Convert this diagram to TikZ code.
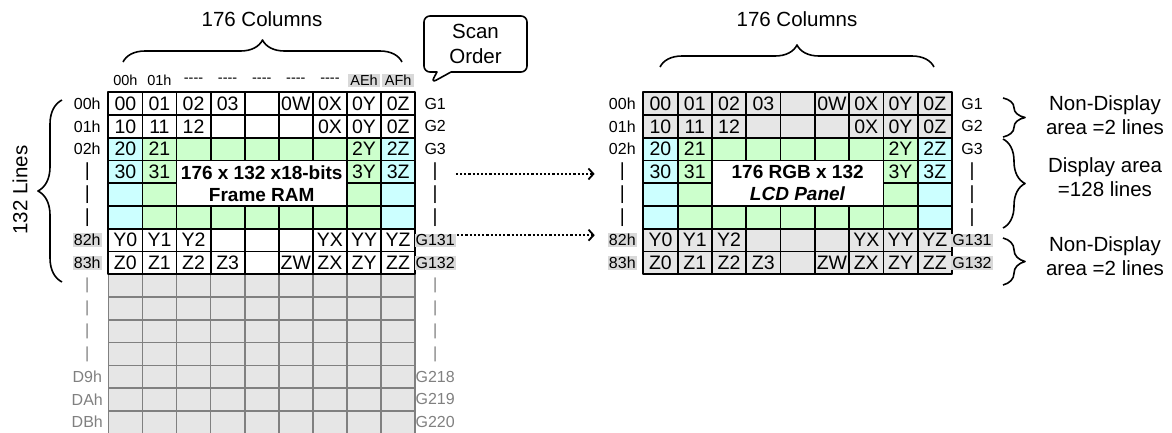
\documentclass[tikz,border=0pt]{standalone}
\usepackage{fontspec}
\setmainfont{Liberation Sans}
\usetikzlibrary{
	arrows.meta,
	decorations.pathreplacing,
	shapes.callouts
}
\definecolor{RowCyan}{HTML}{CCFFFF}
\definecolor{RowGreen}{HTML}{CCFFCC}
\definecolor{CellGray}{HTML}{E6E6E6}
\definecolor{TagGray}{HTML}{D9D9D9}
\definecolor{GridGray}{HTML}{808080}
\def\rowtop{92.3}
\def\rowh{22.75}
\newcommand{\vbar}{{\fontsize{19}{19}\selectfont|}}
\newcommand{\dashtag}{\mbox{-}\mbox{-}\mbox{-}\mbox{-}}
% #1 left x, #2 column width, #3 fill of plain rows, #4 name prefix, #5 title
\newcommand{\ramgrid}[5]{%
	% -- plain rows (first two, last two) -------------------------
	\foreach \ci in {0,...,8}{%
		\foreach \ri in {0,1,6,7}{%
			\filldraw[cellgrid, fill=#3] ({#1+\ci*#2},{\rowtop+\ri*\rowh}) rectangle ++(#2,\rowh);
		}
	}
	% -- display rows ---------------------------------------------
	\foreach \ri in {2,...,5}{%
		\foreach \ci in {0,8}{%
			\filldraw[cellgrid, fill=RowCyan] ({#1+\ci*#2},{\rowtop+\ri*\rowh}) rectangle ++(#2,\rowh);
		}
	}
	\foreach \ri/\ci in {2/1,2/2,2/3,2/4,2/5,2/6,2/7,3/1,3/7,4/1,4/7,5/1,5/2,5/3,5/4,5/5,5/6,5/7}{%
		\filldraw[cellgrid, fill=RowGreen] ({#1+\ci*#2},{\rowtop+\ri*\rowh}) rectangle ++(#2,\rowh);
	}
	\filldraw[cellgrid, fill=white] ({#1+2*#2},{\rowtop+3*\rowh}) rectangle ++({5*#2},{2*\rowh});
	\node[boldtxt] (#4-title) at ({#1+4.5*#2},{\rowtop+4*\rowh}) {#5};
	% -- cell texts -----------------------------------------------
	\foreach \ri/\cells in {0/{00,01,02,03,,0W,0X,0Y,0Z},1/{10,11,12,,,,0X,0Y,0Z},
		2/{20,21,,,,,,2Y,2Z},3/{30,31,,,,,,3Y,3Z},
		6/{Y0,Y1,Y2,,,,YX,YY,YZ},7/{Z0,Z1,Z2,Z3,,ZW,ZX,ZY,ZZ}}{%
		\foreach \cv [count=\ci from 0] in \cells{%
			\node[celltxt] (#4-\ri-\ci) at ({#1+(\ci+0.5)*#2},{\rowtop+(\ri+0.5)*\rowh}) {\cv};
		}
	}
	% -- row tags (left) and gate tags (right) --------------------
	\foreach \lb [count=\ri from 0] in {00h,01h,02h,\vbar,\vbar,\vbar}{%
		\node[rowtag] (#4-row\ri) at ({#1-21},{\rowtop+(\ri+0.5)*\rowh}) {\lb};
	}
	\node[rowtag, fill=TagGray] (#4-row6) at ({#1-21},{\rowtop+6.5*\rowh}) {82h};
	\node[rowtag, fill=TagGray] (#4-row7) at ({#1-21},{\rowtop+7.5*\rowh}) {83h};
	\foreach \lb [count=\ri from 0] in {G1,G2,G3,\vbar,\vbar,\vbar}{%
		\node[rowtag] (#4-g\ri) at ({#1+9*#2+20},{\rowtop+(\ri+0.5)*\rowh}) {\lb};
	}
	\node[rowtag, fill=TagGray] (#4-g6) at ({#1+9*#2+20},{\rowtop+6.5*\rowh}) {G131};
	\node[rowtag, fill=TagGray] (#4-g7) at ({#1+9*#2+20},{\rowtop+7.5*\rowh}) {G132};
}

\begin{document}
\begin{tikzpicture}[x=1pt, y=-1pt, line join=round,
	cellgrid/.style={draw=black, line width=1.8pt},
	greygrid/.style={draw=GridGray, fill=CellGray, line width=1.6pt},
	celltxt/.style={inner sep=0pt, font=\fontsize{19.5}{21}\selectfont},
	boldtxt/.style={align=center, inner sep=0pt, font=\fontsize{19}{22}\selectfont\bfseries},
	rowtag/.style={inner sep=1pt, font=\fontsize{16}{17}\selectfont},
	coltag/.style={inner sep=1pt, font=\fontsize{14.5}{15}\selectfont},
	headtxt/.style={align=center, inner sep=0pt, font=\fontsize{20.5}{23.5}\selectfont},
	curly/.style={decorate, decoration={brace, amplitude=#1}, line width=1.6pt},
	scanarrow/.style={line width=2.2pt, dash pattern=on 2.2pt off 2pt,
		-{Straight Barb[length=5pt, width=11pt, line width=1.8pt]}}
	]
	\useasboundingbox (0,0) rectangle (1172,432);
	
	% -- Left: unused RAM rows (grey) ------------------------------
	\foreach \ci in {0,...,8}{%
		\foreach \ri in {8,...,14}{%
			\filldraw[greygrid] ({108.3+\ci*34.1},{\rowtop+\ri*\rowh}) rectangle ++(34.1,\rowh);
		}
	}
	\foreach \lb [count=\ri from 8] in {|,|,|,|,D9h,DAh,DBh}{%
		\node[rowtag, text=GridGray] (ram-row\ri) at (87.3,{\rowtop+(\ri+0.5)*\rowh}) {\lb};
	}
	\foreach \lb [count=\ri from 8] in {|,|,|,|,G218,G219,G220}{%
		\node[rowtag, text=GridGray] (ram-g\ri) at (435.2,{\rowtop+(\ri+0.5)*\rowh}) {\lb};
	}
	
	% -- Left: frame RAM -------------------------------------------
	\ramgrid{108.3}{34.1}{white}{ram}{176 x 132 x18-bits\\Frame RAM}
	
	% column address tags
	\foreach \lb [count=\ci from 0] in {00h,01h,\dashtag,\dashtag,\dashtag,\dashtag,\dashtag}{%
		\node[coltag] (ram-col\ci) at ({108.3+(\ci+0.5)*34.1},80.5) {\lb};
	}
	\node[coltag, fill=TagGray, minimum width=32pt] (ram-col7) at ({108.3+7.5*34.1},80.5) {AEh};
	\node[coltag, fill=TagGray, minimum width=32pt] (ram-col8) at ({108.3+8.5*34.1},80.5) {AFh};
	
	\draw[curly=22] (123,62) -- (402,62);
	\node[headtxt] (ram-cols) at (262,19) {176 Columns};
	
	\draw[curly=24] (62,282) -- (62,100);
	\node[headtxt, rotate=90] (ram-lines) at (20,190) {132 Lines};
	
	% -- Scan order callout ----------------------------------------
	\node[rectangle callout, draw, line width=1.6pt, rounded corners=6pt,
	minimum width=103pt, minimum height=56pt, callout pointer width=14pt,
	callout absolute pointer={(431,83)}, align=center, inner sep=0pt,
	font=\fontsize{20.5}{25.5}\selectfont] (scan) at (475.5,44) {Scan\\Order};
	
	% -- Right: LCD panel ------------------------------------------
	\ramgrid{643.3}{34.3}{CellGray}{lcd}{176 RGB x 132\\\textit{LCD Panel}}
	
	\draw[curly=22] (660,67) -- (934,67);
	\node[headtxt] (lcd-cols) at (797,19) {176 Columns};
	
	\draw[curly=22] (1003,98) -- (1003,137);
	\node[headtxt] (nondisp-top) at (1105,115) {Non-Display\\area =2 lines};
	\draw[curly=22] (1003,139) -- (1003,228);
	\node[headtxt] (disp) at (1105,177) {Display area\\=128 lines};
	\draw[curly=22] (1003,238) -- (1003,285);
	\node[headtxt] (nondisp-bot) at (1105,256) {Non-Display\\area =2 lines};
	
	% -- Mapping arrows --------------------------------------------
	\draw[scanarrow, shorten <=17pt, shorten >=24pt]
	([yshift=-2pt]ram-g3.east) -- ([yshift=-2pt]lcd-row3.west);
	\draw[scanarrow, shorten <=1pt, shorten >=13pt]
	([yshift=5pt]ram-g6.east) -- ([yshift=5pt]lcd-row6.west);
	
\end{tikzpicture}
\end{document}
